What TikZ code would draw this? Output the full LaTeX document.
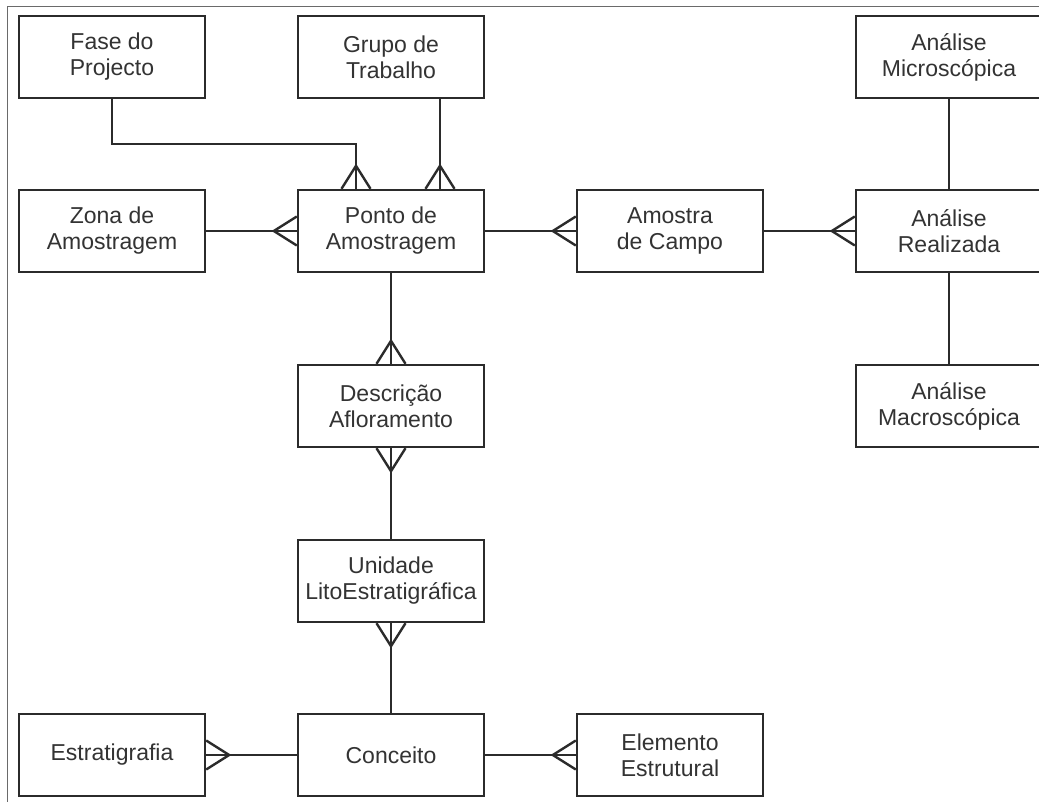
\documentclass[tikz,border=0pt]{standalone}
\usepackage{fontspec}
\setmainfont{Liberation Sans}
\usetikzlibrary{calc}
\definecolor{ln}{HTML}{2B2B2B}
\definecolor{tx}{HTML}{333333}
\definecolor{fr}{HTML}{6A6A6A}
\tikzset{
  ent/.style={draw=ln, line width=2.4pt, fill=white, minimum width=186pt, minimum height=82pt,
    align=center, text=tx, inner sep=0pt, font=\fontsize{23pt}{26pt}\selectfont},
  conn/.style={draw=ln, line width=2.4pt},
  crow/.pic={\draw[ln, line width=2.4pt] (0,14.5) -- (23,0) -- (0,-14.5);}
}
\begin{document}
\begin{tikzpicture}[x=1pt, y=-1pt]
\useasboundingbox (0,0) rectangle (1039,802);
\clip (0,0) rectangle (1039,802);
\draw[fr, line width=1pt] (7,802) -- (7,6.5) -- (1039,6.5);

\node[ent] (fase) at (112,57) {Fase do\\Projecto};
\node[ent] (grupo) at (391,57) {Grupo de\\Trabalho};
\node[ent] (micro) at (949,57) {Análise\\Microscópica};
\node[ent] (zona) at (112,231) {Zona de\\Amostragem};
\node[ent] (ponto) at (391,231) {Ponto de\\Amostragem};
\node[ent] (amostra) at (670,231) {Amostra\\de Campo};
\node[ent] (real) at (949,231) {Análise\\Realizada};
\node[ent] (desc) at (391,406) {Descrição\\Afloramento};
\node[ent] (macro) at (949,406) {Análise\\Macroscópica};
\node[ent] (unid) at (391,581) {Unidade\\LitoEstratigráfica};
\node[ent] (estr) at (112,755) {Estratigrafia};
\node[ent] (conc) at (391,755) {Conceito};
\node[ent] (elem) at (670,755) {Elemento\\Estrutural};

\coordinate (fk) at (356,144);
\coordinate (gk) at ($(grupo.south)+(49,0)$);

% connectors
\draw[conn] (fase.south) |- (fk) -- (fk |- ponto.north);
\draw[conn] (gk) -- (gk |- ponto.north);
\draw[conn] (zona.east) -- (ponto.west);
\draw[conn] (ponto.east) -- (amostra.west);
\draw[conn] (amostra.east) -- (real.west);
\draw[conn] (micro.south) -- (real.north);
\draw[conn] (real.south) -- (macro.north);
\draw[conn] (ponto.south) -- (desc.north);
\draw[conn] (desc.south) -- (unid.north);
\draw[conn] (unid.south) -- (conc.north);
\draw[conn] (estr.east) -- (conc.west);
\draw[conn] (conc.east) -- (elem.west);

% crow's feet
\pic[rotate=90] at (fk |- ponto.north) {crow};
\pic[rotate=90] at (gk |- ponto.north) {crow};
\pic[rotate=180] at (ponto.west) {crow};
\pic[rotate=180] at (amostra.west) {crow};
\pic[rotate=180] at (real.west) {crow};
\pic[rotate=90] at (desc.north) {crow};
\pic[rotate=-90] at (desc.south) {crow};
\pic[rotate=-90] at (unid.south) {crow};
\pic at (estr.east) {crow};
\pic[rotate=180] at (elem.west) {crow};
\end{tikzpicture}
\end{document}
